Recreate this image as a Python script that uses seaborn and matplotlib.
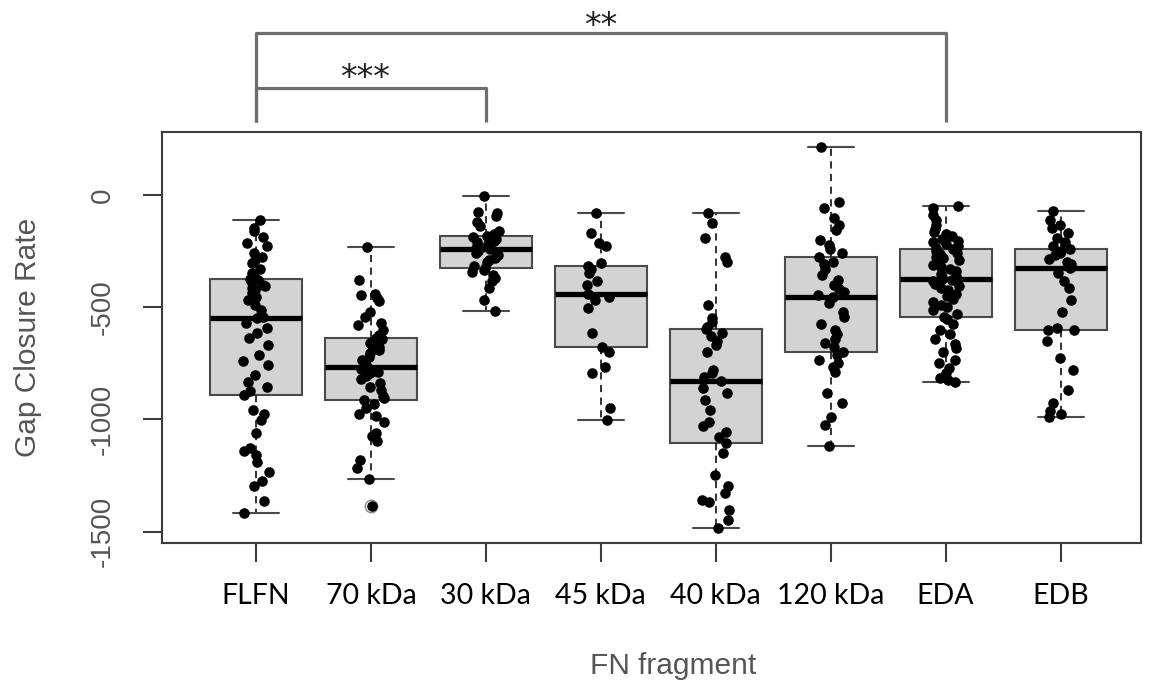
import numpy as np
import pandas as pd
import matplotlib
matplotlib.use("Agg")
import matplotlib.pyplot as plt
import matplotlib.transforms as mtransforms
import seaborn as sns

# ---- data ----
categories = ["FLFN", "70 kDa", "30 kDa", "45 kDa", "40 kDa", "120 kDa", "EDA", "EDB"]

flfn = [-1418, -1366, -1299, -1277, -1233, -1188, -1158, -1140, -1128, -1062, -1002, -975, -958,
        -891,
        -876, -854, -832, -802, -757, -742, -713, -668, -639, -616, -594, -572,
        -549,
        -542, -512, -490, -468, -455, -438, -425, -416, -408, -400, -386, -380,
        -375,
        -371, -349, -330, -304, -290, -275, -260, -230, -215, -186, -160, -148,
        -111]
kda70 = [-1384, -1266, -1215, -1180, -1095, -1075, -1062, -1010, -985, -975, -950, -930,
         -913,
         -906, -895, -870, -854, -840, -822, -809, -795, -790, -780, -775,
         -769,
         -757, -745, -735, -722, -705, -690, -680, -670, -660, -650, -642,
         -636,
         -624, -600, -580, -572, -545, -520, -475, -460, -445, -440, -379,
         -233]
kda30 = [-517, -468, -416, -386, -370, -355, -345, -335,
         -327,
         -318, -300, -290, -280, -268, -258, -250,
         -242,
         -236, -228, -220, -212, -205, -198, -190,
         -183,
         -175, -160, -140, -119, -95, -82, -78,
         -3]
kda45 = [-1005, -950, -794, -765, -700,
         -676,
         -616, -505, -470, -453,
         -442,
         -400, -386, -349, -330,
         -316,
         -304, -230, -215, -171,
         -82]
kda40 = [-1482, -1448, -1405, -1370, -1359, -1330, -1299, -1247, -1150,
         -1106,
         -1080, -1055, -1030, -1010, -960, -913, -884, -860,
         -829,
         -810, -794, -780, -700, -668, -650, -630, -617,
         -597,
         -587, -565, -549, -490, -297, -275, -193, -126,
         -79]
kda120 = [-1121, -1024, -988, -928, -884, -790, -765, -750, -735, -715,
          -701,
          -676, -660, -640, -620, -600, -575, -542, -520, -483,
          -457,
          -445, -431, -420, -401, -380, -355, -330, -310, -297,
          -275,
          -260, -240, -223, -200, -156, -135, -104, -60, -30,
          212]
eda = [-834, -826, -815, -794, -770, -750, -735, -700, -683, -665, -640, -620, -601, -575, -555,
       -542,
       -530, -515, -500, -490, -478, -465, -452, -440, -425, -415, -405, -395, -385, -380,
       -374,
       -368, -360, -352, -340, -330, -320, -312, -300, -290, -282, -275, -265, -258, -250,
       -242,
       -235, -228, -220, -212, -205, -195, -185, -175, -165, -150, -135, -110, -89, -60,
       -48]
edb = [-990, -975, -965, -928, -869, -780, -727, -653,
       -604,
       -600, -594, -520, -468, -416, -386, -350,
       -327,
       -320, -310, -300, -285, -270, -258, -250,
       -242,
       -230, -210, -193, -170, -148, -134, -111,
       -74]

series = [flfn, kda70, kda30, kda45, kda40, kda120, eda, edb]
y_ticks = [0, -500, -1000, -1500]
y_tick_labels = ["0", "-500", "-1000", "-1500"]
comparisons = [("FLFN", "30 kDa", "***"), ("FLFN", "EDA", "**")]

df = pd.DataFrame({
    "fragment": np.repeat(categories, [len(s) for s in series]),
    "rate": np.concatenate(series),
})

# ---- figure ----
W, H = 1153, 688
fig = plt.figure(figsize=(W / 100, H / 100), dpi=100)
sns.set_style("white")
plt.rcParams["font.family"] = ["Liberation Sans", "DejaVu Sans"]

ax = fig.add_axes([162 / W, 1 - 543 / H, (1141 - 162) / W, (543 - 132) / H])

edge = "#4a4a4a"
sns.boxplot(data=df, x="fragment", y="rate", order=categories, ax=ax,
            color="#d3d3d3", width=0.8, linewidth=1.5, linecolor=edge,
            whis=1.5, saturation=1,
            medianprops=dict(color="black", linewidth=3.8),
            whiskerprops=dict(color="#222222", linestyle=(0, (4, 3)), linewidth=1.3),
            capprops=dict(color=edge, linewidth=1.5),
            flierprops=dict(marker="o", markerfacecolor="none",
                            markeredgecolor="#888888", markersize=9))

np.random.seed(7)
sns.stripplot(data=df, x="fragment", y="rate", order=categories, ax=ax,
              color="black", size=7.6, jitter=0.12, linewidth=0, zorder=5)

ax.set_xlim(-0.818, 7.70)
ax.set_ylim(-1551, 280)
ax.set_xlabel("")
ax.set_ylabel("")

for sp in ax.spines.values():
    sp.set_visible(True)
    sp.set_color("#3c3c3c")
    sp.set_linewidth(1.5)

ax.set_yticks(y_ticks)
ax.set_yticklabels(y_tick_labels, rotation=90, va="center",
                   fontsize=20, color="#555555")
ax.tick_params(axis="y", direction="out", length=13.5, width=1.5, color="#3c3c3c", pad=20,
               left=True)
ax.tick_params(axis="x", direction="out", length=13.5, width=1.5, color="#3c3c3c", pad=15,
               bottom=True)
for lab in ax.get_xticklabels():
    lab.set_fontfamily(["Lato", "DejaVu Sans"])
    lab.set_fontsize(20.5)
    lab.set_color("black")

fig.text(28 / W, 1 - 337 / H, "Gap Closure Rate", rotation=90, ha="center", va="center",
         fontsize=21.5, color="#555555")
fig.text(673 / W, 1 - 666 / H, "FN fragment", ha="center", va="center",
         fontsize=21.5, color="#555555")

# ---- significance brackets ----
trans = mtransforms.blended_transform_factory(ax.transData, ax.transAxes)
ax_h = 543 - 132
def yfrac(py):
    return 1 + (132 - py) / ax_h

levels = {"***": (88, 78), "**": (33, 26)}
for a, b, lab in comparisons:
    xa, xb = categories.index(a), categories.index(b)
    yb, yt = levels[lab]
    ax.plot([xa, xa, xb, xb], [yfrac(122), yfrac(yb), yfrac(yb), yfrac(122)],
            transform=trans, clip_on=False, color="#6e6e6e", linewidth=2.3,
            solid_joinstyle="round", solid_capstyle="butt")
    ax.text((xa + xb) / 2 - (0.05 if lab == "***" else 0.0), yfrac(yt), lab,
            transform=trans, ha="center", va="center", fontsize=24,
            fontfamily="DejaVu Sans", color="#222222")

fig.savefig("out.png", dpi=100, facecolor="white")
